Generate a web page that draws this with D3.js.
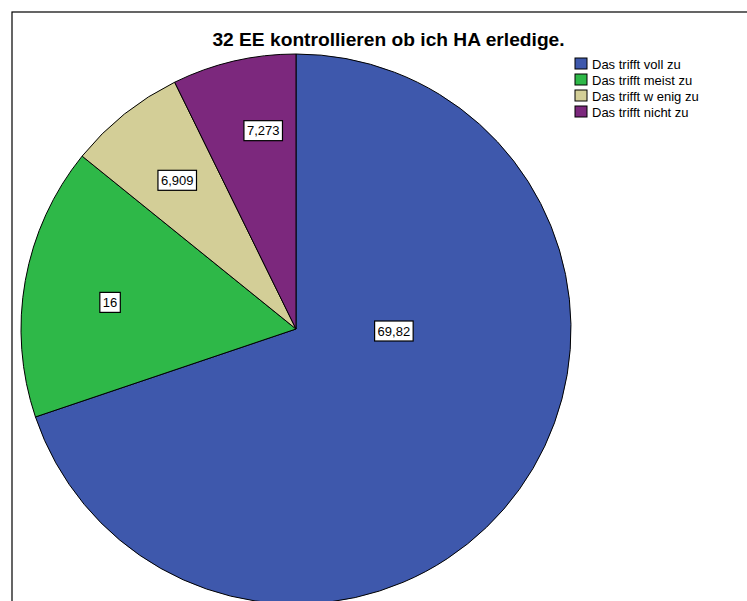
<!DOCTYPE html>
<html>
<head>
<meta charset="utf-8">
<script src="https://cdn.jsdelivr.net/npm/d3@7"></script>
<style>
	body { margin: 0; background: #fff; }
	svg { display: block; font-family: "Liberation Sans", Arial, sans-serif; }
</style>
</head>
<body>
<script>
'use strict';

// Chart data
const title = "32 EE kontrollieren ob ich HA erledige.";
const categories = ["Das trifft voll zu", "Das trifft meist zu", "Das trifft w enig zu", "Das trifft nicht zu"];
const values = [69.82, 16, 6.909, 7.273];
const valueLabels = ["69,82", "16", "6,909", "7,273"];

// Styling
const colors = ["#3e58ac", "#2eb848", "#d3ce97", "#7c287d"];
// label placement: shift from mid angle (deg) and fraction of radius
const labelShift = [-34.5, -2, 0, 3.7];
const labelRadius = [0.356, 0.683, 0.692, 0.731];

const params = {
	width: 747,
	height: 601,
	cx: 296,
	cy: 329,
	radius: 275
};

const svg = d3.select("body")
	.append("svg")
	.attr("width", params.width)
	.attr("height", params.height);

// frame (runs off the right and bottom edges)
svg.append("rect")
	.attr("x", 12)
	.attr("y", 12)
	.attr("width", params.width + 20)
	.attr("height", params.height + 20)
	.attr("fill", "none")
	.attr("stroke", "#000")
	.attr("stroke-width", 1.2);

svg.append("text")
	.attr("x", 388.5)
	.attr("y", 46)
	.attr("text-anchor", "middle")
	.attr("font-size", "19.2px")
	.attr("font-weight", "bold")
	.text(title);

const pie = d3.pie().sort(null).value(d => d)(values);

const arc = d3.arc()
	.innerRadius(0)
	.outerRadius(params.radius);

const g = svg.append("g")
	.attr("transform", `translate(${params.cx}, ${params.cy})`);

g.selectAll(".slice")
	.data(pie)
	.enter()
	.append("path")
	.attr("class", "slice")
	.attr("d", arc)
	.attr("fill", (d, i) => colors[i])
	.attr("stroke", "#000")
	.attr("stroke-width", 1);

const labels = g.selectAll(".lbl")
	.data(pie)
	.enter()
	.append("g")
	.attr("class", "lbl")
	.attr("transform", (d, i) => {
		const a = (d.startAngle + d.endAngle) / 2 + labelShift[i] * Math.PI / 180;
		const r = labelRadius[i] * params.radius;
		return `translate(${r * Math.sin(a)}, ${-r * Math.cos(a)})`;
	});

labels.append("text")
	.attr("text-anchor", "middle")
	.attr("dy", "0.36em")
	.attr("font-size", "13px")
	.text((d, i) => valueLabels[i]);

labels.each(function() {
	const sel = d3.select(this);
	const bb = sel.select("text").node().getBBox();
	sel.insert("rect", "text")
		.attr("x", bb.x - 3)
		.attr("y", -10)
		.attr("width", bb.width + 6)
		.attr("height", 20)
		.attr("fill", "#fff")
		.attr("stroke", "#000")
		.attr("stroke-width", 1.2);
});

// legend
const legend = svg.append("g")
	.attr("transform", "translate(575, 58)");

const rows = legend.selectAll(".row")
	.data(categories)
	.enter()
	.append("g")
	.attr("class", "row")
	.attr("transform", (d, i) => `translate(0, ${i * 16})`);

rows.append("rect")
	.attr("width", 12)
	.attr("height", 11)
	.attr("fill", (d, i) => colors[i])
	.attr("stroke", "#000")
	.attr("stroke-width", 1);

rows.append("text")
	.attr("x", 17)
	.attr("y", 11)
	.attr("font-size", "13px")
	.text(d => d);
</script>
</body>
</html>
